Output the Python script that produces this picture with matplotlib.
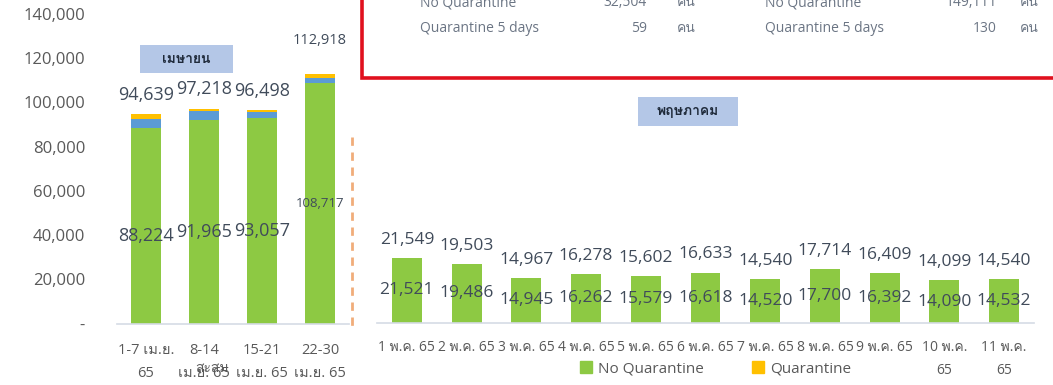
"""
Weekly (April) and daily (May) arrivals by quarantine type, 2565.
"""

import numpy as np
import matplotlib
matplotlib.use('Agg')
from matplotlib import pyplot as plt
from matplotlib import font_manager
from matplotlib.ft2font import FT2Font
from matplotlib.patches import Rectangle, Patch
from matplotlib.lines import Line2D

# April, cumulative per week
apr_labels        = ['1-7 เม.ย.\n65', '8-14\nเม.ย. 65', '15-21\nเม.ย. 65', '22-30\nเม.ย. 65']
apr_no_quarantine = [88224, 91965, 93057, 108717]
apr_other         = [4500, 4050, 2440, 2470]
apr_quarantine    = [1915, 1203, 1001, 1731]

# May, per day
may_labels        = ['1 พ.ค. 65', '2 พ.ค. 65', '3 พ.ค. 65', '4 พ.ค. 65', '5 พ.ค. 65', '6 พ.ค. 65',
                     '7 พ.ค. 65', '8 พ.ค. 65', '9 พ.ค. 65', '10 พ.ค.\n65', '11 พ.ค.\n65']
may_no_quarantine = [21521, 19486, 14945, 16262, 15579, 16618, 14520, 17700, 16392, 14090, 14532]
may_quarantine    = [28, 17, 22, 16, 23, 15, 20, 14, 17, 9, 8]

# summary box
summary_labels = ['No Quarantine', 'Quarantine 5 days']
summary_week   = [32504, 59]
summary_total  = [149111, 130]
unit           = 'คน'


def find_thai_font():
    for f in font_manager.fontManager.ttflist:
        try:
            if 0x0E01 in FT2Font(f.fname).get_charmap():
                return f.name
        except Exception:
            continue
    return None


thai = find_thai_font()
families = ['Open Sans'] + ([thai] if thai else []) + ['DejaVu Sans']
plt.rcParams['font.family'] = families

# colours
c_green  = '#8DC943'
c_blue   = '#5B9BD5'
c_yellow = '#FFC000'
c_text   = '#404B5A'
c_axis   = '#595959'
c_base   = '#D5DBE5'

W, H = 1053, 385
fig = plt.figure(figsize=(W / 100, H / 100), dpi=100)
fig.patch.set_facecolor('white')


def px(x, y, w=0, h=0):
    # pixel box (top-left origin) -> figure fraction rect
    return [x / W, 1 - (y + h) / H, w / W, h / H]


# ---- April ----
ax1 = fig.add_axes(px(117, 14, 232, 309.5))
x1 = np.arange(len(apr_labels))
nq1 = np.array(apr_no_quarantine)
ot1 = np.array(apr_other)
q1 = np.array(apr_quarantine)
ax1.bar(x1, nq1, width=0.52, color=c_green, zorder=2)
ax1.bar(x1, ot1, width=0.52, bottom=nq1, color=c_blue, zorder=2)
ax1.bar(x1, q1, width=0.52, bottom=nq1 + ot1, color=c_yellow, zorder=2)
ax1.set_xlim(-0.5, 3.5)
ax1.set_ylim(0, 140000)
ax1.set_yticks(np.arange(0, 140001, 20000))
ax1.set_yticklabels(['-'] + ['{:,}'.format(v) for v in range(20000, 140001, 20000)],
                    fontsize=12, color=c_axis)
ax1.tick_params(axis='y', length=0, pad=23)
ax1.set_xticks(x1)
ax1.set_xticklabels(apr_labels, fontsize=10.5, color=c_axis, linespacing=1.75)
ax1.tick_params(axis='x', length=0, pad=14)
for s in ['top', 'right', 'left']:
    ax1.spines[s].set_visible(False)
ax1.spines['bottom'].set_color(c_base)
ax1.spines['bottom'].set_linewidth(1.2)

tot1 = nq1 + ot1 + q1
for i in range(len(x1)):
    big = i < 3
    ax1.annotate('{:,}'.format(tot1[i]), (x1[i], tot1[i]), xytext=(0, 14 if big else 24),
                 textcoords='offset points', ha='center', va='center',
                 fontsize=13 if big else 10.5, color=c_text)
    ax1.text(x1[i], nq1[i] * 0.45 if big else nq1[i] * 0.5, '{:,}'.format(nq1[i]),
             ha='center', va='center', fontsize=13 if big else 9.5, color=c_text)

fig.text(212 / W, 1 - 368 / H, 'สะสม', ha='center', va='center', fontsize=10, color=c_axis)

# divider between the two months
fig.add_artist(Line2D([351.7 / W, 351.7 / W], [1 - 137 / H, 1 - 327 / H], color='#EFA46C',
                      lw=2, dashes=(3, 2.4), alpha=0.9))

# ---- May ----
ax2 = fig.add_axes(px(377, 141, 657, 182))
x2 = np.arange(len(may_labels))
nq2 = np.array(may_no_quarantine)
q2 = np.array(may_quarantine)
ax2.bar(x2, nq2, width=0.5, color=c_green, zorder=2)
ax2.bar(x2, q2, width=0.5, bottom=nq2, color=c_yellow, zorder=2)
ax2.set_xlim(-0.5, 10.5)
ax2.set_ylim(0, 60000)
ax2.set_yticks([])
ax2.set_xticks(x2)
ax2.set_xticklabels(may_labels, fontsize=10, color=c_axis, linespacing=1.8)
ax2.tick_params(axis='x', length=0, pad=12)
for s in ['top', 'right', 'left']:
    ax2.spines[s].set_visible(False)
ax2.spines['bottom'].set_color(c_base)
ax2.spines['bottom'].set_linewidth(1.2)

tot2 = nq2 + q2
for i in range(len(x2)):
    ax2.annotate('{:,}'.format(tot2[i]), (x2[i], tot2[i]), xytext=(0, 13),
                 textcoords='offset points', ha='center', va='center',
                 fontsize=12.5, color=c_text)
    ax2.text(x2[i], nq2[i] / 2, '{:,}'.format(nq2[i]), ha='center', va='center',
             fontsize=12.5, color=c_text)

fig.legend(handles=[Patch(color=c_green), Patch(color=c_yellow)],
           labels=['No Quarantine', 'Quarantine'], loc='center left',
           bbox_to_anchor=(580 / W, 1 - 369 / H), ncol=2, frameon=False, fontsize=11,
           handlelength=0.8, handleheight=0.8, handletextpad=0.4, columnspacing=3.1,
           borderpad=0, borderaxespad=0, labelcolor=c_axis)

# month tags
for (bx, by, bw, bh), name in [((140, 45, 93, 28), 'เมษายน'), ((638, 97, 100, 29), 'พฤษภาคม')]:
    fig.add_artist(Rectangle((bx / W, 1 - (by + bh) / H), bw / W, bh / H,
                             transform=fig.transFigure, facecolor='#B4C7E7', edgecolor='none'))
    fig.text((bx + bw / 2) / W, 1 - (by + bh / 2) / H, name, ha='center', va='center',
             fontsize=10, fontweight='bold', color='#1F2A3A')

# summary box
fig.add_artist(Rectangle((362 / W, 1 - 78 / H), 720 / W, 100 / H, transform=fig.transFigure,
                         facecolor='white', edgecolor='#E0101E', lw=2.6))
c_box = '#6B7584'
for row, (lab, v1, v2) in enumerate(zip(summary_labels, summary_week, summary_total)):
    y = 1 - (3 + 26 * row) / H
    fig.text(420 / W, y, lab, ha='left', va='center', fontsize=10, color=c_box)
    fig.text(647 / W, y, '{:,}'.format(v1), ha='right', va='center', fontsize=10, color=c_box)
    fig.text(677 / W, y, unit, ha='left', va='center', fontsize=10, color=c_box)
    fig.text(765 / W, y, lab, ha='left', va='center', fontsize=10, color=c_box)
    fig.text(997 / W, y, '{:,}'.format(v2), ha='right', va='center', fontsize=10, color=c_box)
    fig.text(1020 / W, y, unit, ha='left', va='center', fontsize=10, color=c_box)

fig.savefig('out.png', dpi=100)
